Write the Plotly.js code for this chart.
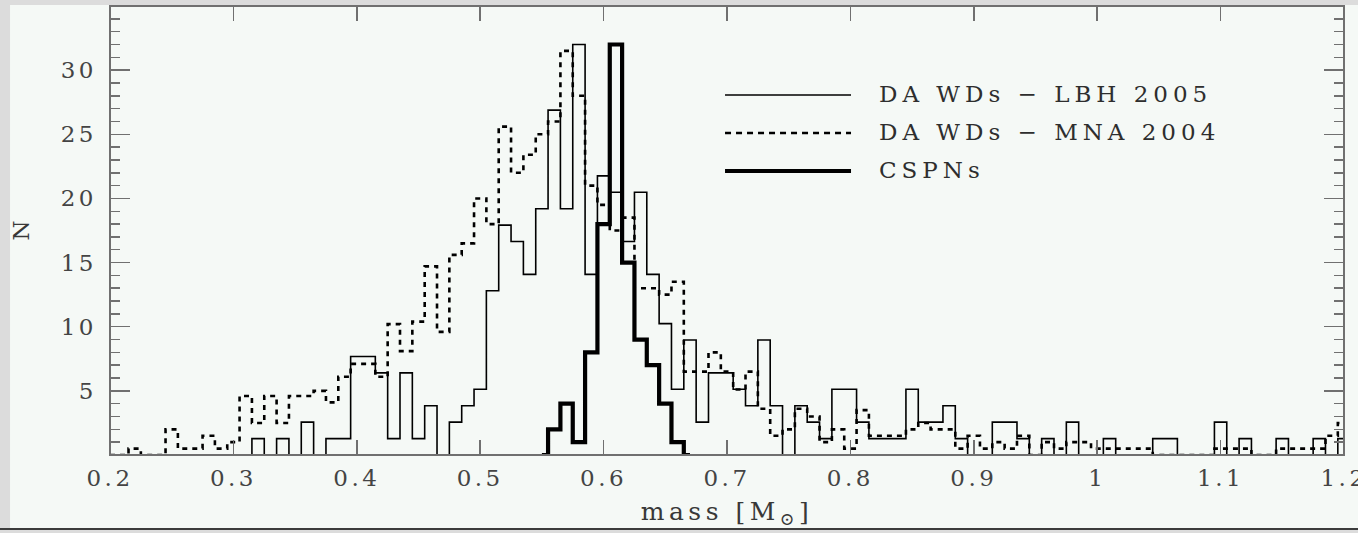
<!DOCTYPE html>
<html>
<head>
<meta charset="utf-8">
<script src="https://cdn.plot.ly/plotly-3.0.1.min.js"></script>
<style>
  html, body { margin: 0; padding: 0; background: #f5f9f6; }
  #chart { width: 1358px; height: 533px; }
  /* wide, airy lettering of the labels */
  .xtick text, .ytick text { letter-spacing: 3.5px; }
  .xtitle { letter-spacing: 4.5px; }
  .annotation-text { letter-spacing: 5px; }
</style>
</head>
<body>
<div id="chart"></div>
<script>
// bin centres of the mass histograms [M_sun], bin width 0.01
const massBins = [
  0.20, 0.21, 0.22, 0.23, 0.24, 0.25, 0.26, 0.27, 0.28, 0.29,
  0.30, 0.31, 0.32, 0.33, 0.34, 0.35, 0.36, 0.37, 0.38, 0.39,
  0.40, 0.41, 0.42, 0.43, 0.44, 0.45, 0.46, 0.47, 0.48, 0.49,
  0.50, 0.51, 0.52, 0.53, 0.54, 0.55, 0.56, 0.57, 0.58, 0.59,
  0.60, 0.61, 0.62, 0.63, 0.64, 0.65, 0.66, 0.67, 0.68, 0.69,
  0.70, 0.71, 0.72, 0.73, 0.74, 0.75, 0.76, 0.77, 0.78, 0.79,
  0.80, 0.81, 0.82, 0.83, 0.84, 0.85, 0.86, 0.87, 0.88, 0.89,
  0.90, 0.91, 0.92, 0.93, 0.94, 0.95, 0.96, 0.97, 0.98, 0.99,
  1.00, 1.01, 1.02, 1.03, 1.04, 1.05, 1.06, 1.07, 1.08, 1.09,
  1.10, 1.11, 1.12, 1.13, 1.14, 1.15, 1.16, 1.17, 1.18, 1.19,
  1.20
];

// DA white dwarfs, LBH 2005 (scaled counts)
const lbh2005 = [
  0, 0, 0, 0, 0, 0, 0, 0, 0, 0,
  0, 0, 1.28, 0, 1.28, 0, 2.56, 0, 1.28, 1.28,
  7.68, 7.68, 6.4, 1.28, 6.4, 1.28, 3.84, 0, 2.56, 3.84,
  5.12, 12.8, 17.92, 16.64, 14.08, 19.2, 26.88, 19.2, 32.0, 14.08,
  21.76, 20.48, 16.64, 20.48, 14.08, 10.24, 5.12, 8.96, 2.56, 6.4,
  6.4, 5.12, 3.84, 8.96, 3.84, 0, 3.84, 2.56, 1.28, 5.12,
  5.12, 2.56, 1.28, 1.28, 1.28, 5.12, 2.56, 2.56, 3.84, 1.28,
  0, 0, 2.56, 2.56, 1.28, 0, 1.28, 0, 2.56, 0,
  0, 1.28, 0, 0, 0, 1.28, 1.28, 0, 0, 0,
  2.56, 0, 1.28, 0, 0, 1.28, 0, 0, 1.28, 0,
  1.28
];

// DA white dwarfs, MNA 2004 (scaled counts)
const mna2004 = [
  0, 0, 0.5, 0, 0, 2.0, 0.5, 0.5, 1.5, 0.5,
  1.0, 4.6, 2.5, 4.6, 2.5, 4.6, 4.6, 5.0, 4.1, 6.1,
  7.1, 7.1, 6.1, 10.2, 8.1, 10.4, 14.7, 9.6, 15.6, 16.5,
  20.0, 18.0, 25.6, 22.0, 23.4, 25.0, 26.0, 31.5, 28.0, 21.0,
  19.5, 17.5, 18.5, 13.0, 13.0, 12.5, 13.5, 6.5, 6.5, 8.0,
  6.5, 5.1, 6.5, 3.6, 1.5, 2.0, 3.6, 3.0, 1.0, 2.0,
  0.5, 3.5, 1.5, 1.5, 1.5, 2.0, 2.5, 2.0, 2.0, 0.5,
  1.5, 0.5, 1.0, 0.5, 1.5, 0, 1.0, 0.5, 1.0, 1.0,
  0.5, 0.5, 0.5, 0.5, 0.5, 0, 0, 0, 0, 0,
  0.5, 0.5, 0.5, 0, 0, 0.5, 0.5, 0.5, 0.5, 1.5,
  2.5
];

// central stars of planetary nebulae
const cspnMass = [0.55, 0.56, 0.57, 0.58, 0.59, 0.60, 0.61, 0.62, 0.63, 0.64, 0.65, 0.66, 0.67];
const cspnCounts = [0, 2, 4, 1, 8, 18, 32, 15, 9, 7, 4, 1, 0];

const seriesNames = ['DA WDs \u2212 LBH 2005', 'DA WDs \u2212 MNA 2004', 'CSPNs'];

const xTickVals = [0.2, 0.3, 0.4, 0.5, 0.6, 0.7, 0.8, 0.9, 1.0, 1.1, 1.2];
const xTickText = ['0.2', '0.3', '0.4', '0.5', '0.6', '0.7', '0.8', '0.9', '1', '1.1', '1.2'];
const yTickVals = [5, 10, 15, 20, 25, 30];

const INK = '#000000';
const FRAME = '#707070';
const BG = '#f5f9f6';
const EDGE = '#dcdcdc';

const lineStyles = [
  { color: INK, width: 1.6 },
  { color: INK, width: 2.6, dash: '5px,5px' },
  { color: INK, width: 4.2 }
];

const traces = [
  { x: massBins, y: mna2004, name: seriesNames[1] },
  { x: massBins, y: lbh2005, name: seriesNames[0] },
  { x: cspnMass, y: cspnCounts, name: seriesNames[2] }
].map(function (t, i) {
  const style = [lineStyles[1], lineStyles[0], lineStyles[2]][i];
  return Object.assign(t, {
    type: 'scatter', mode: 'lines',
    line: Object.assign({ shape: 'hvh' }, style),
    hoverinfo: 'x+y+name'
  });
});

// key: sample lines and labels in the upper right
const keyRows = [0.8018, 0.7171, 0.6325];
const shapes = [
  // page edges of the scanned figure
  { type: 'rect', xref: 'paper', yref: 'paper', x0: -0.0892, x1: -0.0810, y0: -0.175, y1: 1.014,
    fillcolor: EDGE, line: { width: 0 }, layer: 'below' },
  { type: 'rect', xref: 'paper', yref: 'paper', x0: -0.0892, x1: 1.0115, y0: 1.0025, y1: 1.014,
    fillcolor: EDGE, line: { width: 0 }, layer: 'below' },
  { type: 'rect', xref: 'paper', yref: 'paper', x0: -0.0892, x1: 1.0115, y0: -0.175, y1: -0.1648,
    fillcolor: EDGE, line: { width: 0 }, layer: 'below' },
  { type: 'line', xref: 'paper', yref: 'paper', x0: -0.0892, x1: 1.0115, y0: -0.1648, y1: -0.1648,
    line: { color: '#3c3c3c', width: 2 } },
  // plot frame
  { type: 'rect', xref: 'paper', yref: 'paper', x0: 0, x1: 1, y0: 0, y1: 1,
    line: { color: FRAME, width: 2 }, layer: 'above' }
];
const annotations = [];
[0, 1, 2].forEach(function (k) {
  shapes.push({
    type: 'line', xref: 'paper', yref: 'paper',
    x0: 0.4984, x1: 0.6005, y0: keyRows[k], y1: keyRows[k],
    line: Object.assign({}, lineStyles[k], k === 1 ? { dash: '6px,5px' } : {})
  });
  annotations.push({
    xref: 'paper', yref: 'paper', x: 0.6216, y: keyRows[k] + 0.003,
    xanchor: 'left', yanchor: 'middle', showarrow: false,
    text: seriesNames[k],
    font: { family: 'DejaVu Serif', size: 23, color: '#2e2e2e' }
  });
});

const tickCommon = {
  ticks: 'inside', tickcolor: FRAME, tickwidth: 1.5,
  mirror: 'ticks', showline: false, showgrid: false, zeroline: false,
  tickfont: { family: 'DejaVu Serif', size: 23, color: '#444444' }
};

const layout = {
  width: 1358, height: 533,
  margin: { l: 110, r: 14, t: 6, b: 78, pad: 0 },
  paper_bgcolor: BG, plot_bgcolor: BG,
  showlegend: false,
  font: { family: 'DejaVu Serif', color: '#404040' },
  xaxis: Object.assign({}, tickCommon, {
    range: [0.19999, 1.20001], tickmode: 'array', tickvals: xTickVals, ticktext: xTickText,
    ticklen: 15, ticklabelstandoff: 7, ticklabeloverflow: 'allow',
    title: { text: 'mass [M<sub>\u2299</sub>]', standoff: 12,
             font: { family: 'DejaVu Serif', size: 25, color: '#383838' } }
  }),
  yaxis: Object.assign({}, tickCommon, {
    range: [0, 35], tickmode: 'array', tickvals: yTickVals,
    ticklen: 20, ticklabelstandoff: 12,
    minor: { dtick: 1, ticks: 'inside', ticklen: 10, tickcolor: FRAME, tickwidth: 1.5 },
    title: { text: 'N', standoff: 24,
             font: { family: 'DejaVu Serif', size: 23, color: '#383838' } }
  }),
  shapes: shapes,
  annotations: annotations
};

Plotly.newPlot('chart', traces, layout, { displayModeBar: false, staticPlot: true });
</script>
</body>
</html>
